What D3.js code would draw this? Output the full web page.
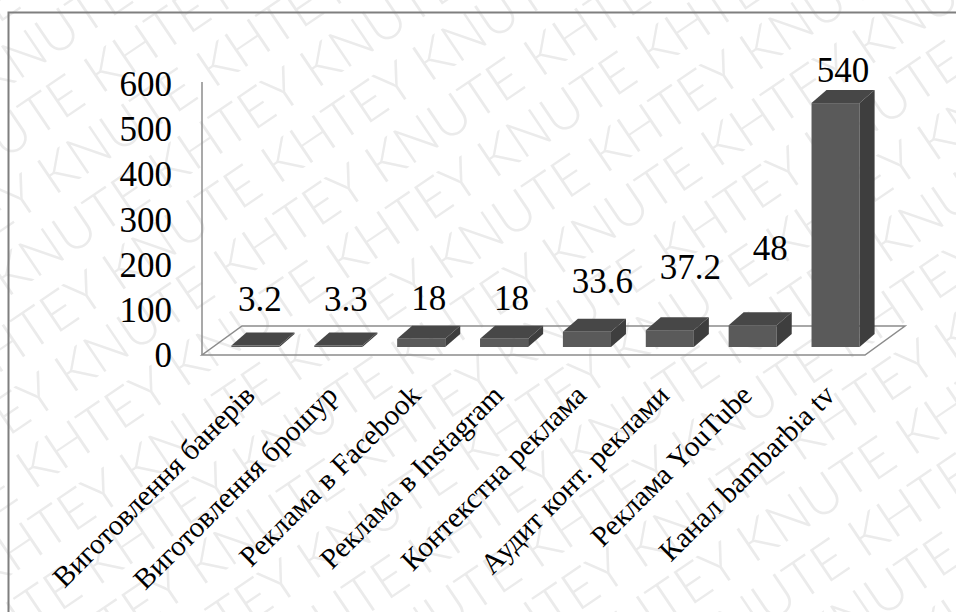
<!DOCTYPE html>
<html>
<head>
<meta charset="utf-8">
<script src="https://cdn.jsdelivr.net/npm/d3@7"></script>
<style>
  html, body { margin: 0; padding: 0; background: #fff; }
  svg { display: block; }
</style>
</head>
<body>
<svg id="chart"></svg>
<script>
// data
var categories = ['Виготовлення банерів', 'Виготовлення брошур', 'Реклама в Facebook',
                  'Реклама в Instagram', 'Контекстна реклама', 'Аудит конт. реклами',
                  'Реклама YouTube', 'Канал bambarbia tv'];
var values = [3.2, 3.3, 18, 18, 33.6, 37.2, 48, 540];
var yTicks = [0, 100, 200, 300, 400, 500, 600];

// label nudges, as in the original layout (px)
var labelLift = [22, 22, 16, 16, 26, 38, 52, 8];
var labelShift = [-3, 0, 0, 0, 8, 13, 10, 0];

function drawWatermark(svg, width, height) {
   var g = svg.append('g')
       .attr('transform', 'rotate(-34 ' + width / 2 + ' ' + height / 2 + ')');
   var words = ['KNUTE', 'KHTEY'];
   for (var r = -10; r < 10; r++) {
      var line = '';
      for (var k = 0; k < 10; k++) line += words[(k + r + 40) % 2] + ' ';
      g.append('text')
         .attr('x', -560 + ((r + 40) % 2) * 95)
         .attr('y', height / 2 + r * 58 + 20)
         .style('font-family', 'Lato, "Liberation Sans", Arial, sans-serif')
         .style('font-weight', 300)
         .style('font-size', '54px')
         .style('fill', '#ebebeb')
         .text(line);
   }
}

function barChart3d(svgname) {
   var width = 956,
       height = 612;

   var svg = d3.select('#' + svgname)
       .attr('width', width)
       .attr('height', height);

   drawWatermark(svg, width, height);

   // chart area border (runs off the right and bottom of the picture)
   svg.append('path')
      .attr('d', 'M8.5,' + (height + 5) + 'V12.5H' + (width + 5))
      .attr('fill', 'none')
      .attr('stroke', '#7f7f7f')
      .attr('stroke-width', 2);

   var x0 = 202, x1 = 865, y0 = 355;
   var floorDepth = [40, -29],
       barFront = [12, -8],
       barDepth = [15, -13];

   var x = d3.scaleBand()
       .domain(categories)
       .range([x0, x1])
       .paddingInner(0.42)
       .paddingOuter(0.21);

   var y = d3.scaleLinear()
       .domain([0, 600])
       .range([y0, 84]);

   // floor
   svg.append('path')
      .attr('d', 'M' + x0 + ',' + y0 + 'L' + x1 + ',' + y0 +
                 'L' + (x1 + floorDepth[0]) + ',' + (y0 + floorDepth[1]) +
                 'L' + (x0 + floorDepth[0]) + ',' + (y0 + floorDepth[1]) + 'Z')
      .attr('fill', 'none')
      .attr('stroke', '#8c8c8c')
      .attr('stroke-width', 1.5);

   // value axis line
   svg.append('line')
      .attr('x1', x0).attr('x2', x0)
      .attr('y1', y(600) - 2).attr('y2', y0)
      .attr('stroke', '#8c8c8c')
      .attr('stroke-width', 1.5);

   svg.selectAll('.tick-label')
      .data(yTicks)
      .enter().append('text')
      .attr('class', 'tick-label')
      .attr('x', 172)
      .attr('y', function(d) { return y(d) + 12; })
      .attr('text-anchor', 'end')
      .style('font-family', '"Liberation Serif", "Times New Roman", serif')
      .style('font-size', '35px')
      .text(function(d) { return d; });

   var bars = svg.selectAll('.bar')
       .data(values)
       .enter().append('g')
       .attr('class', 'bar');

   function geom(d, i) {
      var bx = x(categories[i]) + barFront[0],
          by = y0 + barFront[1],
          h = y(0) - y(d),
          w = x.bandwidth();
      return { bx: bx, by: by, top: by - h, w: w, h: h };
   }

   // front face
   bars.append('rect')
      .attr('x', function(d, i) { return geom(d, i).bx; })
      .attr('y', function(d, i) { return geom(d, i).top; })
      .attr('width', x.bandwidth())
      .attr('height', function(d, i) { return geom(d, i).h; })
      .attr('fill', '#5a5a5a');

   // right side
   bars.append('path')
      .attr('d', function(d, i) {
         var g = geom(d, i), r = g.bx + g.w;
         return 'M' + r + ',' + g.by + 'L' + r + ',' + g.top +
                'L' + (r + barDepth[0]) + ',' + (g.top + barDepth[1]) +
                'L' + (r + barDepth[0]) + ',' + (g.by + barDepth[1]) + 'Z';
      })
      .attr('fill', '#3e3e3e');

   // top
   bars.append('path')
      .attr('d', function(d, i) {
         var g = geom(d, i);
         return 'M' + g.bx + ',' + g.top + 'L' + (g.bx + g.w) + ',' + g.top +
                'L' + (g.bx + g.w + barDepth[0]) + ',' + (g.top + barDepth[1]) +
                'L' + (g.bx + barDepth[0]) + ',' + (g.top + barDepth[1]) + 'Z';
      })
      .attr('fill', '#474747');

   // value labels
   bars.append('text')
      .attr('x', function(d, i) {
         var g = geom(d, i);
         return g.bx + g.w / 2 + barDepth[0] / 2 + labelShift[i];
      })
      .attr('y', function(d, i) {
         var g = geom(d, i);
         return g.top + barDepth[1] - labelLift[i];
      })
      .attr('text-anchor', 'middle')
      .style('font-family', '"Liberation Serif", "Times New Roman", serif')
      .style('font-size', '35px')
      .text(function(d) { return d; });

   // category labels
   svg.selectAll('.cat-label')
      .data(categories)
      .enter().append('text')
      .attr('class', 'cat-label')
      .attr('transform', function(d) {
         return 'translate(' + (x(d) + x.bandwidth() / 2 + 13) + ',' + 397 + ') rotate(-45)';
      })
      .attr('text-anchor', 'end')
      .style('font-family', '"Liberation Serif", "Times New Roman", serif')
      .style('font-size', '29px')
      .text(function(d) { return d; });
}

barChart3d('chart');
</script>
</body>
</html>
